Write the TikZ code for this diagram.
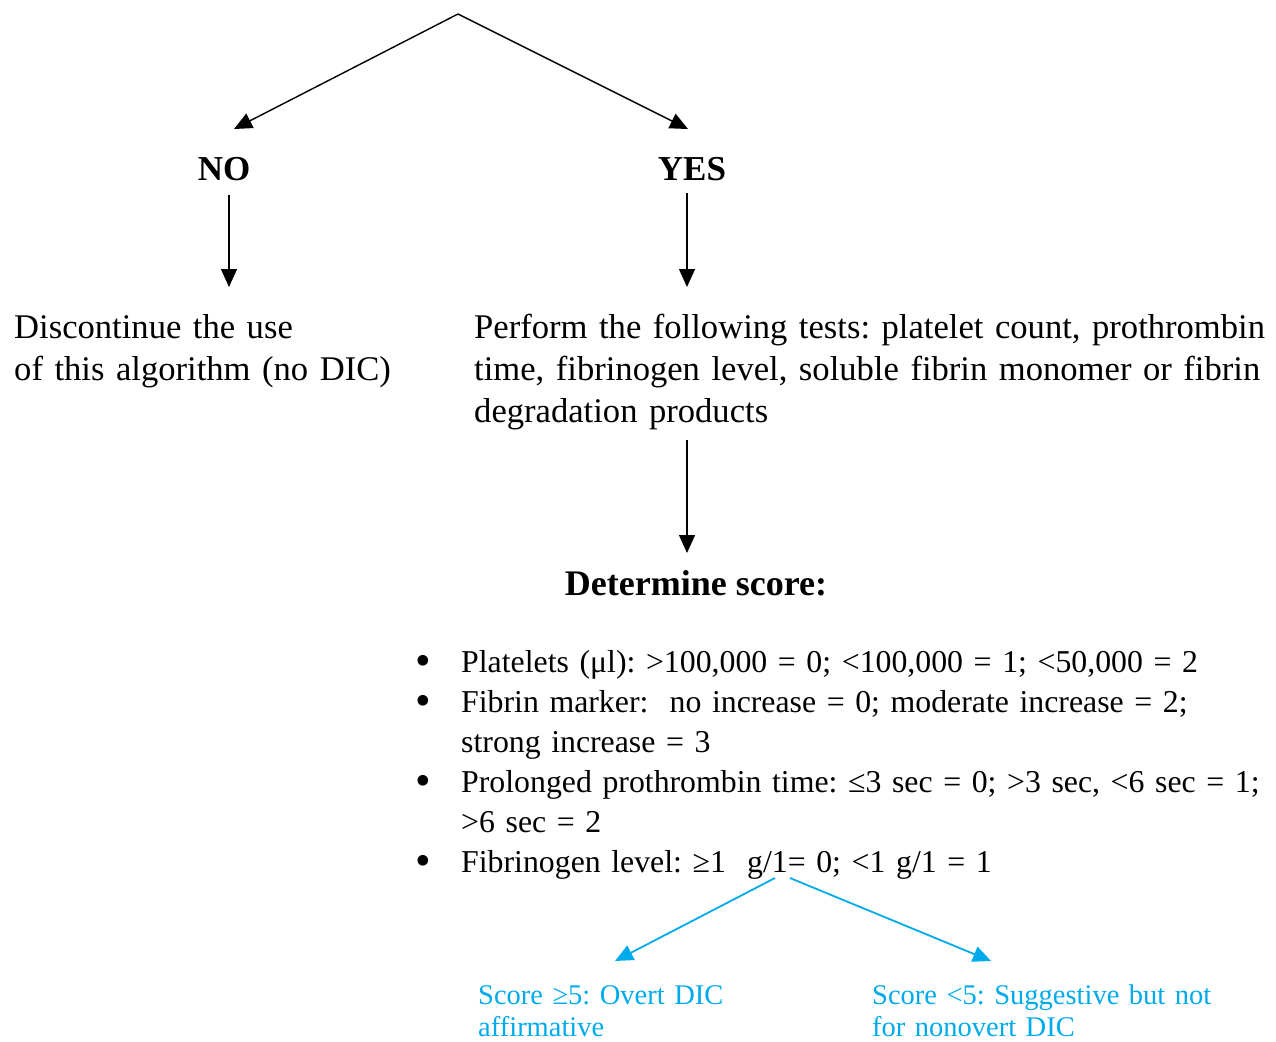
\documentclass[tikz,border=0pt]{standalone}
\usepackage{fontspec}
\usepackage{graphicx}
\setmainfont{Liberation Serif}
\usetikzlibrary{arrows.meta}
\definecolor{dicblue}{RGB}{0,170,235}
\newcommand{\nohyph}{\frenchspacing\hyphenpenalty=10000\relax}
\newcommand{\bigbul}{\makebox[46pt][l]{\smash{\raisebox{-3.5pt}{\scalebox{1.4}{\textbullet}}}}}
\tikzset{
  conn/.style={line width=1.4pt,-{Triangle[length=18pt,width=16pt]}},
  bconn/.style={conn,draw=dicblue,fill=dicblue,line width=1.8pt},
  lbl/.style={inner sep=0pt,font=\fontsize{35}{42}\selectfont\bfseries},
  para/.style={inner sep=0pt,anchor=base west,align=left,font=\fontsize{34.6}{42}\selectfont\nohyph},
  blue/.style={inner sep=0pt,anchor=base west,align=left,text=dicblue,font=\fontsize{28.5}{32}\selectfont\nohyph}
}
\begin{document}
\begin{tikzpicture}[x=1pt,y=-1pt]
\useasboundingbox (0,0) rectangle (1276,1041);
% coordinates for connectors
\coordinate (apex) at (458,14);
\coordinate (noTip) at (234,129);
\coordinate (yesTip) at (688,129);
\coordinate (noA) at (229,195);
\coordinate (noB) at (229,287);
\coordinate (yesA) at (687,193);
\coordinate (yesB) at (687,287);
\coordinate (perfA) at (687,440);
\coordinate (perfB) at (687,553);
\coordinate (fibL) at (775,878);
\coordinate (fibR) at (790,878);
\coordinate (ovTip) at (615,961);
\coordinate (nonTip) at (991,961);

\node[lbl,anchor=base] (no) at (224,180) {NO};
\node[lbl,anchor=base] (yes) at (692,180) {YES};

\node[para,text width=440pt] (disc) at (14,338) {Discontinue the use\\of this algorithm (no DIC)};
\node[para,text width=860pt] (perform) at (474,338) {Perform the following tests: platelet count, prothrombin\\time, fibrinogen level, soluble fibrin monomer or fibrin\\degradation products};

\node[lbl,anchor=base,font=\fontsize{36}{42}\selectfont\bfseries] (det) at (696,595) {Determine score:};

\node[inner sep=0pt,anchor=base west,text width=860pt,font=\fontsize{31.8}{40}\selectfont\nohyph] (scores) at (415,672) {%
\setlength{\parindent}{0pt}\raggedright
\hangindent=46pt\hangafter=1 \bigbul Platelets (μl): >100,000 = 0; <100,000 = 1; <50,000 = 2\par
\hangindent=46pt\hangafter=1 \bigbul Fibrin marker:\ \ no increase = 0; moderate increase = 2;\newline strong increase = 3\par
\hangindent=46pt\hangafter=1 \bigbul Prolonged prothrombin time: ≤3 sec = 0; >3 sec, <6 sec = 1;\newline >6 sec = 2\par
\hangindent=46pt\hangafter=1 \bigbul Fibrinogen level: ≥1\ \ g/1= 0; <1 g/1 = 1\par};

\node[blue,text width=340pt] (overt) at (478,1004) {Score ≥5: Overt DIC\\affirmative};
\node[blue,text width=390pt] (nonovert) at (872,1004) {Score <5: Suggestive but not\\for nonovert DIC};

\draw[conn] (apex) -- (noTip);
\draw[conn] (apex) -- (yesTip);
\draw[conn] (noA) -- (noB);
\draw[conn] (yesA) -- (yesB);
\draw[conn] (perfA) -- (perfB);
\draw[bconn] (fibL) -- (ovTip);
\draw[bconn] (fibR) -- (nonTip);
\end{tikzpicture}
\end{document}
